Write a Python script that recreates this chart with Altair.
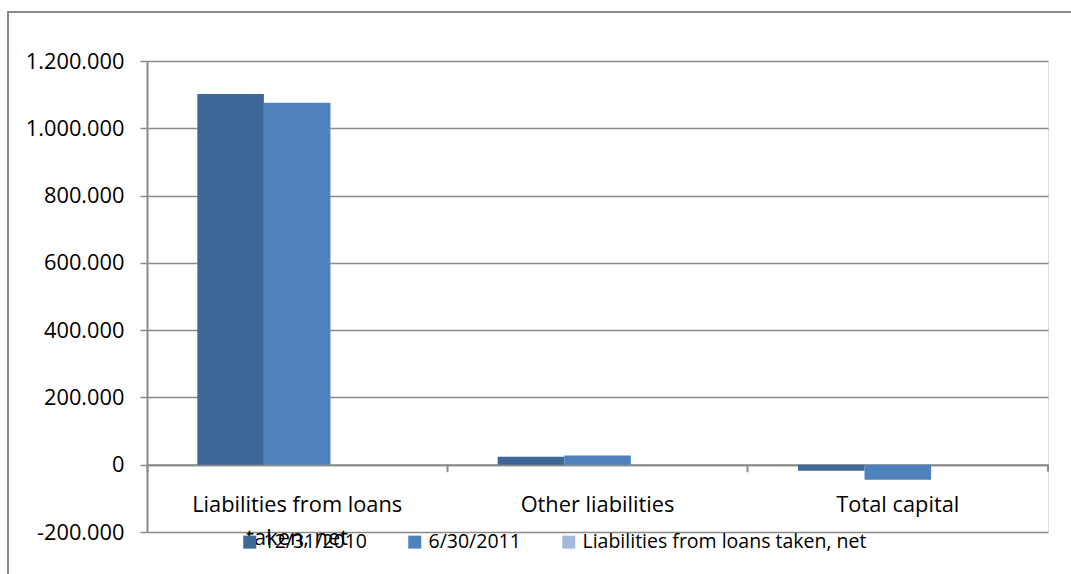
import altair as alt
import pandas as pd

categories = ["Liabilities from loans taken, net", "Other liabilities", "Total capital"]
series = ["12/31/2010", "6/30/2011"]
legend_entries = ["12/31/2010", "6/30/2011", "Liabilities from loans taken, net"]
values_2010 = [1102000, 24000, -18000]
values_2011 = [1076000, 27500, -44500]
colors = ["#3F6797", "#4F81BD", "#A7B9DA"]

rows = []
for c, v1, v2 in zip(categories, values_2010, values_2011):
    rows.append({"category": c, "series": series[0], "value": v1})
    rows.append({"category": c, "series": series[1], "value": v2})
df = pd.DataFrame(rows)

FONT = "Open Sans"
FS = 21.8
LFS = 19.5
GRID = "#8A8A8A"
W, H = 901, 471

bars = alt.Chart(df).mark_bar().encode(
    x=alt.X("category:N", sort=categories, title=None,
            scale=alt.Scale(paddingInner=0, paddingOuter=0),
            axis=alt.Axis(orient="bottom", offset=-H / 7, bandPosition=0,
                          labelAngle=0, labelFontSize=FS, labelFont=FONT,
                          labelColor="#000000", labelPadding=23, labelLimit=0,
                          labelExpr="datum.value == 'Liabilities from loans taken, net' ? ['Liabilities from loans', 'taken, net'] : datum.value",
                          labelLineHeight=33, labelBaseline="top",
                          tickSize=7, tickColor=GRID, tickWidth=2,
                          domainColor=GRID, domainWidth=2, grid=False)),
    # the third (empty) series keeps its slot, as in the original
    xOffset=alt.XOffset("series:N",
                        scale=alt.Scale(domain=legend_entries, paddingInner=0, paddingOuter=0.756)),
    y=alt.Y("value:Q", title=None,
            scale=alt.Scale(domain=[-200000, 1200000], nice=False, zero=False),
            axis=alt.Axis(values=list(range(-200000, 1200001, 200000)),
                          labelExpr="replace(replace(format(datum.value, ','), /,/g, '.'), '\u2212', '-')",
                          labelFontSize=FS, labelFont=FONT, labelColor="#000000",
                          labelPadding=16, tickSize=7, tickColor=GRID, tickWidth=1.5,
                          domainColor=GRID, domainWidth=2,
                          grid=True, gridColor=GRID, gridWidth=1.5)),
    color=alt.Color("series:N",
                    scale=alt.Scale(domain=legend_entries, range=colors),
                    legend=alt.Legend(title=None, orient="none", direction="horizontal",
                                      legendX=93, legendY=471,
                                      symbolType="square", symbolSize=169,
                                      symbolStrokeWidth=0, symbolOpacity=1,
                                      labelFontSize=LFS, labelFont=FONT, labelLimit=0,
                                      labelColor="#000000", labelOffset=4,
                                      columnPadding=38)),
)

end_tick = alt.Chart(pd.DataFrame({"a": [0]})).mark_rule(color=GRID, strokeWidth=2).encode(
    x=alt.value(W), y=alt.datum(0), y2=alt.value(H * 6 / 7 + 7)
)

frame = alt.Chart(pd.DataFrame({"a": [0]})).mark_rect(
    fill=None, stroke="#8A8A8A", strokeWidth=2
).encode(
    x=alt.value(8 - 147), x2=alt.value(1100), y=alt.value(12 - 61), y2=alt.value(700)
)

chart = alt.layer(bars, end_tick, frame).properties(
    width=W, height=H,
    autosize=alt.AutoSizeParams(type="none"),
    padding={"left": 147, "top": 61, "right": 23, "bottom": 42},
).configure_view(stroke=None).configure(background="#FFFFFF")

chart.save("out.html", embed_options={"renderer": "svg", "actions": False})
